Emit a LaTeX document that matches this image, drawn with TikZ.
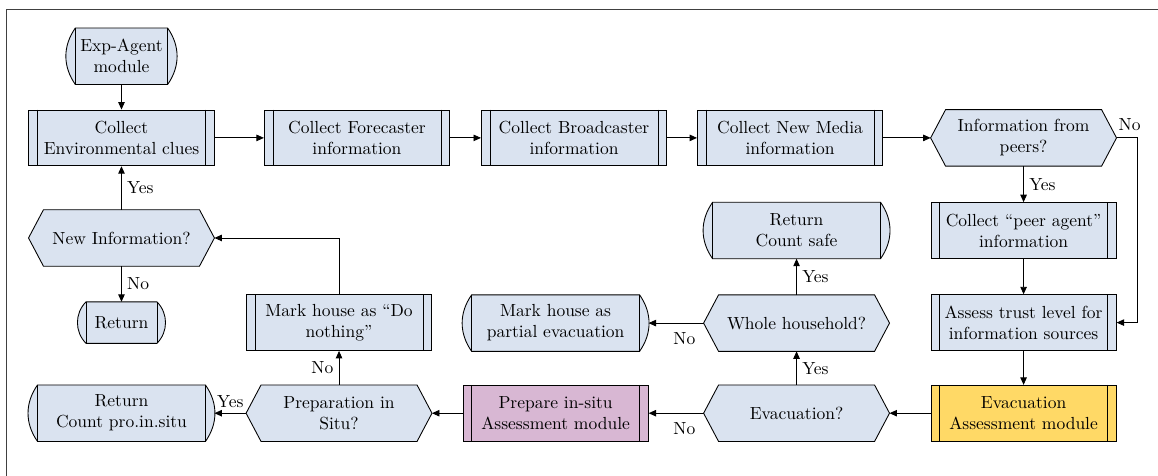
\documentclass[tikz,border=0pt]{standalone}
\usepackage{xcolor}
\usepackage{tikz}
\usetikzlibrary{positioning, arrows.meta, backgrounds, calc}
\definecolor{boxblue}{HTML}{DAE3F0}
\definecolor{boxpurple}{HTML}{D8B7D3}
\definecolor{boxyellow}{HTML}{FFD966}
\definecolor{linegray}{HTML}{404040}

\begin{document}
\begin{tikzpicture}[
        font=\normalsize,
        subproc/.style={rectangle, draw=black, line width=0.5pt, fill=boxblue,
                minimum width=3.72cm, minimum height=1.12cm, align=center,
                inner sep=2pt},
        terminal/.style={rectangle, minimum width=3.72cm,
                minimum height=1.12cm, align=center, inner sep=2pt},
        decision/.style={rectangle, minimum width=3.72cm,
                minimum height=1.12cm, align=center, inner sep=2pt},
        shapeline/.style={draw=black, line width=0.5pt, fill=boxblue},
        arr/.style={-{Triangle[length=1.5mm, width=1.3mm]}, black,
                line width=0.5pt},
        arrlbl/.style={inner sep=3pt},
    ]
    \useasboundingbox (0,0) rectangle (23.26,9.56);
    \draw[linegray, line width=0.6pt] (0.14,0) -- (0.14,9.36) -- (23.26,9.36);

    % top row
    \node[terminal, minimum width=2.2cm] (expAgent) at (2.44, 8.43) {Exp-Agent\\module};
    \node[subproc] (envClues) at ( 2.44, 6.79) {Collect\\Environmental clues};
    \node[subproc] (forecaster) at ( 7.17, 6.79) {Collect Forecaster\\information};
    \node[subproc] (broadcaster) at (11.53, 6.79) {Collect Broadcaster\\information};
    \node[subproc] (newMedia) at (15.87, 6.79) {Collect New Media\\information};
    \node[decision] (peers) at (20.56, 6.79) {Information from\\peers?};

    % right column
    \node[subproc] (peerAgent) at (20.56, 4.93) {Collect “peer agent”\\information};
    \node[subproc] (trust) at (20.56, 3.08) {Assess trust level for\\information sources};
    \node[subproc, fill=boxyellow] (evacModule) at (20.56, 1.26) {Evacuation\\Assessment module};

    % evacuation branch
    \node[decision] (evacQ) at (16.00, 1.26) {Evacuation?};
    \node[decision] (wholeQ) at (16.00, 3.07) {Whole household?};
    \node[terminal] (retSafe) at (16.00, 4.93) {Return\\Count safe};
    \node[terminal] (markPartial) at (11.16, 3.07) {Mark house as\\partial evacuation};
    \node[subproc, fill=boxpurple] (prepModule) at (11.16, 1.26) {Prepare in-situ\\Assessment module};

    % in-situ branch
    \node[decision] (situQ) at (6.81, 1.26) {Preparation in\\Situ?};
    \node[subproc] (doNothing) at (6.81, 3.08) {Mark house as “Do\\nothing”};
    \node[terminal] (retSitu) at (2.44, 1.26) {Return\\Count pro.in.situ};

    % loop back
    \node[decision] (newInfo) at (2.44, 4.78) {New Information?};
    \node[terminal, minimum width=1.77cm, minimum height=0.82cm] (ret) at (2.44, 3.08) {Return};

    \foreach \n in {envClues, forecaster, broadcaster, newMedia, peerAgent,
            trust, evacModule, prepModule, doNothing} {
        \draw ([xshift=0.18cm]\n.north west) -- ([xshift=0.18cm]\n.south west);
        \draw ([xshift=-0.18cm]\n.north east) -- ([xshift=-0.18cm]\n.south east);
    }

    \begin{pgfonlayer}{background}
        \foreach \n in {newInfo, peers, wholeQ, evacQ, situQ}
            \draw[shapeline] (\n.west) -- ([xshift=0.3cm]\n.north west)
                -- ([xshift=-0.3cm]\n.north east) -- (\n.east)
                -- ([xshift=-0.3cm]\n.south east)
                -- ([xshift=0.3cm]\n.south west) -- cycle;
        \foreach \n/\b in {expAgent/35, retSafe/35, markPartial/35,
                retSitu/35, ret/45} {
            \draw[shapeline] ([xshift=0.18cm]\n.north west)
                to[bend right=\b] ([xshift=0.18cm]\n.south west)
                -- ([xshift=-0.18cm]\n.south east)
                to[bend right=\b] ([xshift=-0.18cm]\n.north east) -- cycle;
            \draw ([xshift=0.18cm]\n.north west) -- ([xshift=0.18cm]\n.south west);
            \draw ([xshift=-0.18cm]\n.north east) -- ([xshift=-0.18cm]\n.south east);
        }
    \end{pgfonlayer}

    \draw[arr] (expAgent) -- (envClues);
    \draw[arr] (envClues) -- (forecaster);
    \draw[arr] (forecaster) -- (broadcaster);
    \draw[arr] (broadcaster) -- (newMedia);
    \draw[arr] (newMedia) -- (peers);
    \draw[arr] (peers) -- node[arrlbl, right] {Yes} (peerAgent);
    \draw[arr] (peers.east) node[arrlbl, above right, inner sep=1pt, yshift=3pt] {No}
        -- ++(0.42,0) |- (trust.east);
    \draw[arr] (peerAgent) -- (trust);
    \draw[arr] (trust) -- (evacModule);
    \draw[arr] (evacModule) -- (evacQ);
    \draw[arr] (evacQ) -- node[arrlbl, right] {Yes} (wholeQ);
    \draw[arr] (wholeQ) -- node[arrlbl, right] {Yes} (retSafe);
    \draw[arr] (wholeQ) -- node[arrlbl, below, pos=0.35, yshift=-2pt] {No} (markPartial);
    \draw[arr] (evacQ) -- node[arrlbl, below, pos=0.35, yshift=-2pt] {No} (prepModule);
    \draw[arr] (prepModule) -- (situQ);
    \draw[arr] (situQ) -- node[arrlbl, above] {Yes} (retSitu);
    \draw[arr] (situQ) -- node[arrlbl, left] {No} (doNothing);
    \draw[arr] (doNothing.north) |- (newInfo.east);
    \draw[arr] (newInfo) -- node[arrlbl, right] {Yes} (envClues);
    \draw[arr] (newInfo) -- node[arrlbl, right] {No} (ret);
\end{tikzpicture}
\end{document}
